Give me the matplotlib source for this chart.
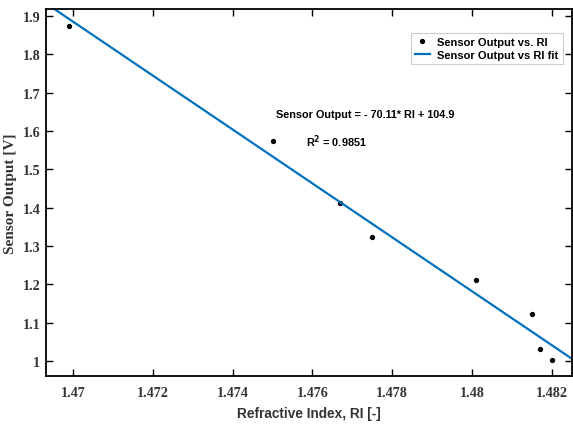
import numpy as np
import matplotlib
matplotlib.use("Agg")
import matplotlib.pyplot as plt

ri = [1.4699, 1.4750, 1.4767, 1.4775, 1.4801, 1.4815, 1.4817, 1.4820]
vout = [1.875, 1.575, 1.4125, 1.323, 1.212, 1.1227, 1.031, 1.0026]
xticks = [1.470, 1.472, 1.474, 1.476, 1.478, 1.480, 1.482]
xticklabels = ["1.47", "1.472", "1.474", "1.476", "1.478", "1.48", "1.482"]
yticks = [1.0, 1.1, 1.2, 1.3, 1.4, 1.5, 1.6, 1.7, 1.8, 1.9]
yticklabels = ["1", "1.1", "1.2", "1.3", "1.4", "1.5", "1.6", "1.7", "1.8", "1.9"]

SANS = "Liberation Sans"
SERIF = "Liberation Serif"

fig = plt.figure(figsize=(5.73, 4.27), dpi=100)
ax = fig.add_axes([46/573, 50/427, 526/573, 367/427])

xlim = (1.46932, 1.48251)
ylim = (0.9609, 1.9183)

coef = np.polyfit(ri, vout, 1)
xs = np.array(xlim)
ax.plot(ri, vout, ls="none", marker="o", ms=2.8, color="black", label="Sensor Output vs. RI")
ax.plot(xs, np.polyval(coef, xs), color="#0072BD", lw=1.6, label="Sensor Output vs RI fit")

ax.set_xlim(*xlim)
ax.set_ylim(*ylim)
ax.set_xticks(xticks)
ax.set_xticklabels(xticklabels)
ax.set_yticks(yticks)
ax.set_yticklabels(yticklabels)
ax.tick_params(direction="in", length=5, width=1.0, top=True, right=True)
ax.tick_params(axis="x", pad=7)
ax.tick_params(axis="y", pad=4)
for lab in ax.get_xticklabels() + ax.get_yticklabels():
    lab.set_fontfamily(SERIF)
    lab.set_fontweight("bold")
    lab.set_fontsize(10.2)
    lab.set_color("#333333")
for s in ax.spines.values():
    s.set_linewidth(1.3)

ax.set_xlabel("Refractive Index, RI [-]", fontfamily=SANS, fontweight="bold",
              fontsize=9.8, color="#333333", labelpad=5)
ax.set_ylabel("Sensor Output [V]", fontfamily=SERIF, fontweight="bold",
              fontsize=11, color="#333333", va="center")
ax.yaxis.set_label_coords(-0.067, 0.5)

leg = ax.legend(loc="upper right", bbox_to_anchor=(0.982, 0.935), frameon=True,
                fancybox=False, edgecolor="#cccccc", framealpha=1,
                prop={"family": SANS, "weight": "bold", "size": 8},
                handlelength=1.3, handletextpad=0.7, borderpad=0.35, labelspacing=0.3,
                borderaxespad=0.0)
leg.get_frame().set_linewidth(0.8)

ax.text(0.438, 0.713, "Sensor Output = - 70.11* RI + 104.9", transform=ax.transAxes,
        fontfamily=SANS, fontweight="bold", fontsize=7.8, va="center", ha="left")
ax.text(0.494, 0.64, r"R$^{\mathbf{2}}$ = 0.9851", transform=ax.transAxes,
        fontfamily=SANS, fontweight="bold", fontsize=7.8, va="center", ha="left")

fig.savefig("out.png", dpi=100)
